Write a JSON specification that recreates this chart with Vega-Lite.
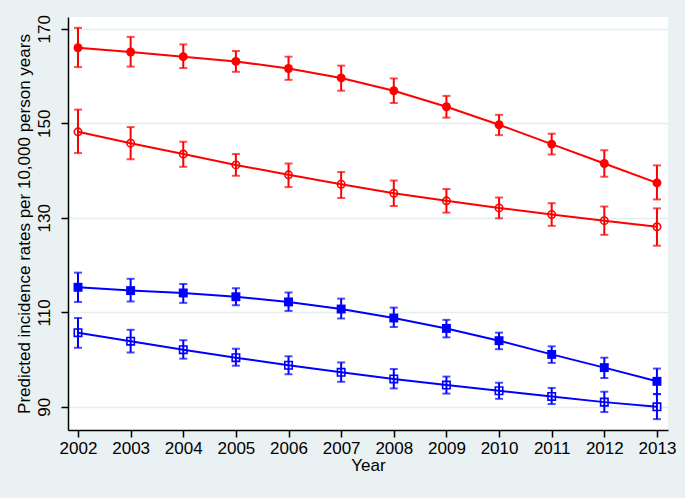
{
  "$schema": "https://vega.github.io/schema/vega-lite/v6.json",
  "width": 600,
  "height": 413,
  "autosize": "none",
  "padding": {"left": 68, "top": 17, "right": 17, "bottom": 68},
  "background": "#E9F1F3",
  "config": {
    "view": {"fill": "white", "stroke": null},
    "font": "Liberation Sans",
    "axis": {
      "labelFont": "Liberation Sans",
      "titleFont": "Liberation Sans",
      "labelFontSize": 17,
      "titleFontSize": 17,
      "titleFontWeight": "normal",
      "labelColor": "black",
      "titleColor": "black",
      "domainColor": "black",
      "domainWidth": 1.5,
      "tickColor": "black",
      "tickWidth": 1.5,
      "tickSize": 7
    }
  },
  "data": {
    "values": [
      {"year": 2002, "series": "A", "est": 166.0, "lo": 161.9, "hi": 170.2},
      {"year": 2003, "series": "A", "est": 165.1, "lo": 162.0, "hi": 168.3},
      {"year": 2004, "series": "A", "est": 164.1, "lo": 161.7, "hi": 166.7},
      {"year": 2005, "series": "A", "est": 163.1, "lo": 160.9, "hi": 165.3},
      {"year": 2006, "series": "A", "est": 161.6, "lo": 159.2, "hi": 164.1},
      {"year": 2007, "series": "A", "est": 159.6, "lo": 156.9, "hi": 162.2},
      {"year": 2008, "series": "A", "est": 156.9, "lo": 154.3, "hi": 159.5},
      {"year": 2009, "series": "A", "est": 153.5, "lo": 151.2, "hi": 155.8},
      {"year": 2010, "series": "A", "est": 149.7, "lo": 147.5, "hi": 151.8},
      {"year": 2011, "series": "A", "est": 145.6, "lo": 143.4, "hi": 147.8},
      {"year": 2012, "series": "A", "est": 141.5, "lo": 138.7, "hi": 144.3},
      {"year": 2013, "series": "A", "est": 137.4, "lo": 133.9, "hi": 141.1},
      {"year": 2002, "series": "B", "est": 148.2, "lo": 143.7, "hi": 152.9},
      {"year": 2003, "series": "B", "est": 145.8, "lo": 142.4, "hi": 149.2},
      {"year": 2004, "series": "B", "est": 143.5, "lo": 140.8, "hi": 146.1},
      {"year": 2005, "series": "B", "est": 141.2, "lo": 138.9, "hi": 143.5},
      {"year": 2006, "series": "B", "est": 139.1, "lo": 136.5, "hi": 141.5},
      {"year": 2007, "series": "B", "est": 137.1, "lo": 134.2, "hi": 139.7},
      {"year": 2008, "series": "B", "est": 135.2, "lo": 132.5, "hi": 137.9},
      {"year": 2009, "series": "B", "est": 133.6, "lo": 131.1, "hi": 136.1},
      {"year": 2010, "series": "B", "est": 132.1, "lo": 129.9, "hi": 134.3},
      {"year": 2011, "series": "B", "est": 130.7, "lo": 128.3, "hi": 133.1},
      {"year": 2012, "series": "B", "est": 129.4, "lo": 126.4, "hi": 132.4},
      {"year": 2013, "series": "B", "est": 128.1, "lo": 124.1, "hi": 132.0},
      {"year": 2002, "series": "C", "est": 115.3, "lo": 112.2, "hi": 118.4},
      {"year": 2003, "series": "C", "est": 114.6, "lo": 112.3, "hi": 117.1},
      {"year": 2004, "series": "C", "est": 114.1, "lo": 112.0, "hi": 116.0},
      {"year": 2005, "series": "C", "est": 113.3, "lo": 111.5, "hi": 115.1},
      {"year": 2006, "series": "C", "est": 112.2, "lo": 110.3, "hi": 114.2},
      {"year": 2007, "series": "C", "est": 110.7, "lo": 108.7, "hi": 112.9},
      {"year": 2008, "series": "C", "est": 108.8, "lo": 106.9, "hi": 111.0},
      {"year": 2009, "series": "C", "est": 106.6, "lo": 104.7, "hi": 108.4},
      {"year": 2010, "series": "C", "est": 104.0, "lo": 102.2, "hi": 105.7},
      {"year": 2011, "series": "C", "est": 101.1, "lo": 99.3, "hi": 102.8},
      {"year": 2012, "series": "C", "est": 98.3, "lo": 96.1, "hi": 100.4},
      {"year": 2013, "series": "C", "est": 95.4, "lo": 92.7, "hi": 98.1},
      {"year": 2002, "series": "D", "est": 105.7, "lo": 102.5, "hi": 108.8},
      {"year": 2003, "series": "D", "est": 103.9, "lo": 101.5, "hi": 106.3},
      {"year": 2004, "series": "D", "est": 102.1, "lo": 100.2, "hi": 104.1},
      {"year": 2005, "series": "D", "est": 100.4, "lo": 98.7, "hi": 102.3},
      {"year": 2006, "series": "D", "est": 98.8, "lo": 96.9, "hi": 100.7},
      {"year": 2007, "series": "D", "est": 97.3, "lo": 95.3, "hi": 99.4},
      {"year": 2008, "series": "D", "est": 95.9, "lo": 93.9, "hi": 98.0},
      {"year": 2009, "series": "D", "est": 94.6, "lo": 92.8, "hi": 96.4},
      {"year": 2010, "series": "D", "est": 93.4, "lo": 91.7, "hi": 95.1},
      {"year": 2011, "series": "D", "est": 92.2, "lo": 90.6, "hi": 94.0},
      {"year": 2012, "series": "D", "est": 91.0, "lo": 88.9, "hi": 93.2},
      {"year": 2013, "series": "D", "est": 90.0, "lo": 87.4, "hi": 92.7}
    ]
  },
  "encoding": {
    "x": {
      "field": "year",
      "type": "quantitative",
      "title": "Year",
      "scale": {"domain": [2001.81, 2013.21], "nice": false, "zero": false},
      "axis": {
        "values": [2002, 2003, 2004, 2005, 2006, 2007, 2008, 2009, 2010, 2011, 2012, 2013],
        "format": "d",
        "grid": false,
        "labelPadding": 3,
        "titlePadding": 1,
        "labelFlush": false,
        "labelOverlap": false
      }
    },
    "color": {
      "field": "series",
      "type": "nominal",
      "legend": null,
      "scale": {"domain": ["A", "B", "C", "D"], "range": ["#FF0000", "#FF0000", "#0000FF", "#0000FF"]}
    }
  },
  "layer": [
    {
      "mark": {"type": "line", "strokeWidth": 2},
      "encoding": {
        "y": {
          "field": "est",
          "type": "quantitative",
          "title": "Predicted incidence rates per 10,000 person years",
          "scale": {"domain": [85.1, 172.5], "nice": false, "zero": false},
          "axis": {
            "values": [90, 110, 130, 150, 170],
            "grid": true,
            "gridColor": "#E4EEEE",
            "gridWidth": 1.5,
            "labelAngle": -90,
            "labelAlign": "center",
            "labelBaseline": "bottom",
            "labelPadding": 8,
            "titlePadding": 2
          }
        },
        "detail": {"field": "series"}
      }
    },
    {
      "mark": {"type": "rule", "strokeWidth": 2},
      "encoding": {
        "y": {"field": "lo", "type": "quantitative"},
        "y2": {"field": "hi"}
      }
    },
    {
      "mark": {"type": "tick", "orient": "horizontal", "size": 8, "thickness": 2},
      "encoding": {"y": {"field": "lo", "type": "quantitative"}}
    },
    {
      "mark": {"type": "tick", "orient": "horizontal", "size": 8, "thickness": 2},
      "encoding": {"y": {"field": "hi", "type": "quantitative"}}
    },
    {
      "transform": [{"filter": "datum.series === 'A' || datum.series === 'C'"}],
      "mark": {"type": "point", "filled": true, "opacity": 1, "size": 80},
      "encoding": {
        "y": {"field": "est", "type": "quantitative"},
        "shape": {
          "field": "series",
          "type": "nominal",
          "legend": null,
          "scale": {"domain": ["A", "B", "C", "D"], "range": ["circle", "circle", "square", "square"]}
        }
      }
    },
    {
      "transform": [{"filter": "datum.series === 'B' || datum.series === 'D'"}],
      "mark": {"type": "point", "filled": false, "opacity": 1, "size": 55, "strokeWidth": 1.6},
      "encoding": {
        "y": {"field": "est", "type": "quantitative"},
        "shape": {
          "field": "series",
          "type": "nominal",
          "legend": null,
          "scale": {"domain": ["A", "B", "C", "D"], "range": ["circle", "circle", "square", "square"]}
        }
      }
    }
  ]
}
